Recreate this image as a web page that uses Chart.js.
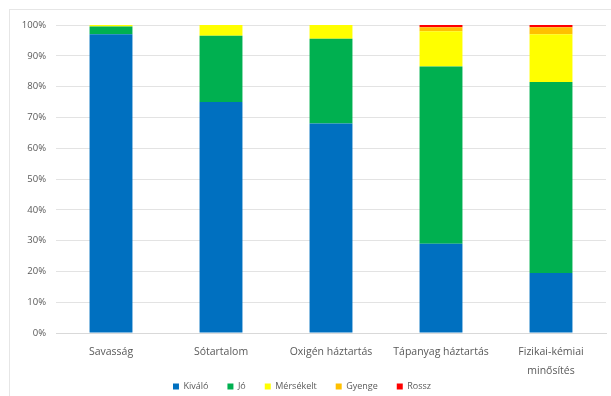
<!DOCTYPE html>
<html>
<head>
<meta charset="utf-8">
<script src="https://cdn.jsdelivr.net/npm/chart.js@4/dist/chart.umd.min.js"></script>
<style>
  html, body { margin: 0; padding: 0; background: #fff; }
  #wrap { width: 611px; height: 396px; position: relative; }
</style>
</head>
<body>
<div id="wrap"><canvas id="mainChart" width="611" height="396"></canvas></div>
<script>
// Kategóriák és minősítési arányok (%)
const categories = ['Savasság', 'Sótartalom', 'Oxigén háztartás', 'Tápanyag háztartás', ['Fizikai-kémiai', 'minősítés']];
const kivalo    = [97,  75,   68,   29,   19.5];
const jo        = [2.5, 21.5, 27.5, 57.5, 62];
const mersekelt = [0.5, 3.5,  4.5,  11.5, 15.5];
const gyenge    = [0,   0,    0,    1.3,  2.3];
const rossz     = [0,   0,    0,    0.7,  0.7];
const yTicks = [0, 10, 20, 30, 40, 50, 60, 70, 80, 90, 100];

const textColor = '#595959';
const fontFamily = '"Open Sans", "Liberation Sans", sans-serif';

// halvány keret a diagram körül
const frame = {
    id: 'frame',
    beforeDraw(chart) {
        const ctx = chart.ctx;
        ctx.save();
        ctx.strokeStyle = '#e6e6e6';
        ctx.lineWidth = 1;
        ctx.strokeRect(9.5, 9.5, 610, 395);
        ctx.restore();
    }
};

// a jelmagyarázat vízszintes közei nagyok, de függőlegesen ne foglaljon sok helyet
const legendPlace = {
    id: 'legendPlace',
    beforeInit(chart) {
        const origFit = chart.legend.fit;
        chart.legend.fit = function () {
            origFit.call(this);
            this.height = 17;
        };
    },
    afterLayout(chart) {
        const lg = chart.legend;
        lg.top = 363;
        lg.left -= 8;
        lg.right -= 8;
    }
};

const ctx = document.getElementById('mainChart').getContext('2d');

const seriesConfig = [
    { label: 'Kiváló',    data: kivalo,    color: '#0070C0' },
    { label: 'Jó',        data: jo,        color: '#00B050' },
    { label: 'Mérsékelt', data: mersekelt, color: '#FFFF00' },
    { label: 'Gyenge',    data: gyenge,    color: '#FFC000' },
    { label: 'Rossz',     data: rossz,     color: '#FF0000' }
];

new Chart(ctx, {
    type: 'bar',
    data: {
        labels: categories,
        datasets: seriesConfig.map(s => ({
            label: s.label,
            data: s.data,
            backgroundColor: s.color,
            borderWidth: 0,
            categoryPercentage: 0.39,
            barPercentage: 1
        }))
    },
    options: {
        responsive: false,
        animation: false,
        layout: { padding: { top: 25, right: 5, bottom: 0, left: 14 } },
        plugins: {
            legend: {
                position: 'bottom',
                labels: {
                    color: textColor,
                    font: { family: fontFamily, size: 9 },
                    boxWidth: 6,
                    boxHeight: 6,
                    padding: 19
                }
            },
            tooltip: { enabled: false }
        },
        scales: {
            x: {
                stacked: true,
                grid: { display: false },
                border: { color: '#d9d9d9' },
                afterFit: scale => { scale.height = 46; },
                ticks: {
                    color: textColor,
                    font: { family: fontFamily, size: 10.5, lineHeight: 1.75 },
                    maxRotation: 0,
                    padding: 2
                }
            },
            y: {
                stacked: true,
                min: 0,
                max: 100,
                afterBuildTicks: scale => { scale.ticks = yTicks.map(v => ({ value: v })); },
                afterFit: scale => { scale.width = 42; },
                grid: { color: '#e3e3e3', drawTicks: false },
                border: { display: false },
                ticks: {
                    color: textColor,
                    font: { family: fontFamily, size: 9.5 },
                    padding: 10,
                    callback: v => v + '%'
                }
            }
        }
    },
    plugins: [frame, legendPlace]
});
</script>
</body>
</html>
